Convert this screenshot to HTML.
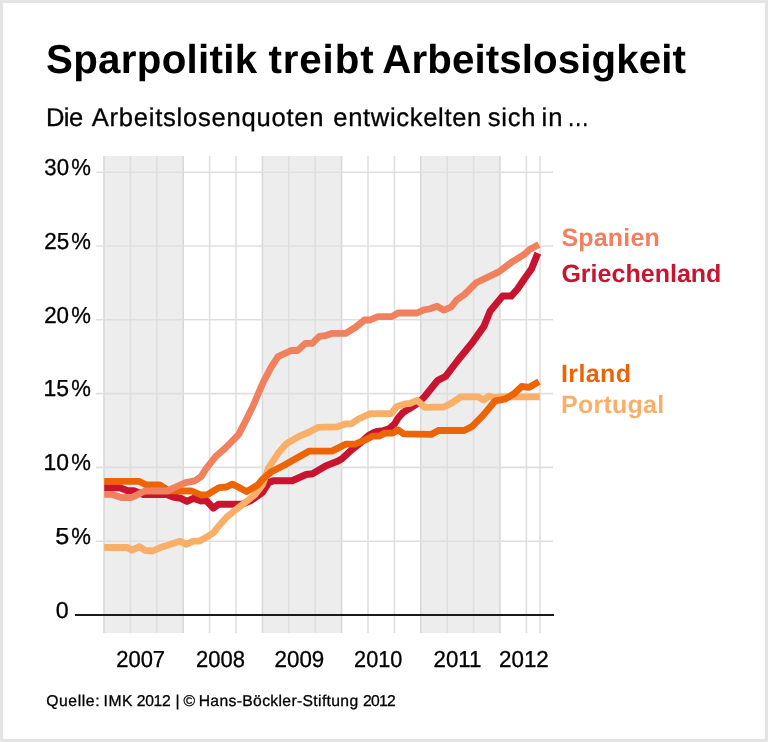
<!DOCTYPE html>
<html lang="de"><head><meta charset="utf-8"><title>Sparpolitik treibt Arbeitslosigkeit</title>
<style>html,body{margin:0;padding:0;background:#fff;overflow:hidden}svg{display:block}</style></head>
<body>
<svg width="768" height="742" viewBox="0 0 768 742">
<rect x="0" y="0" width="768" height="742" fill="#e4e4e4"/>
<rect x="3" y="3" width="762" height="736" fill="#ffffff"/>
<rect x="104.0" y="156" width="79.2" height="477" fill="#ededed"/>
<rect x="262.4" y="156" width="79.2" height="477" fill="#ededed"/>
<rect x="420.8" y="156" width="79.2" height="477" fill="#ededed"/>
<g stroke="#dfdfdf" stroke-width="1.6" fill="none">
<line x1="104.0" y1="156" x2="104.0" y2="633" stroke="#d9d9d9"/>
<line x1="130.4" y1="156" x2="130.4" y2="633"/>
<line x1="156.8" y1="156" x2="156.8" y2="633"/>
<line x1="183.2" y1="156" x2="183.2" y2="633" stroke="#d9d9d9"/>
<line x1="209.6" y1="156" x2="209.6" y2="633"/>
<line x1="236.0" y1="156" x2="236.0" y2="633"/>
<line x1="262.4" y1="156" x2="262.4" y2="633" stroke="#d9d9d9"/>
<line x1="288.8" y1="156" x2="288.8" y2="633"/>
<line x1="315.2" y1="156" x2="315.2" y2="633"/>
<line x1="341.6" y1="156" x2="341.6" y2="633" stroke="#d9d9d9"/>
<line x1="368.0" y1="156" x2="368.0" y2="633"/>
<line x1="394.4" y1="156" x2="394.4" y2="633"/>
<line x1="420.8" y1="156" x2="420.8" y2="633" stroke="#d9d9d9"/>
<line x1="447.2" y1="156" x2="447.2" y2="633"/>
<line x1="473.6" y1="156" x2="473.6" y2="633"/>
<line x1="500.0" y1="156" x2="500.0" y2="633" stroke="#d9d9d9"/>
<line x1="526.4" y1="156" x2="526.4" y2="633"/>
<line x1="540.0" y1="156" x2="540.0" y2="633"/>
<line x1="96" y1="541.2" x2="553" y2="541.2"/>
<line x1="96" y1="467.4" x2="553" y2="467.4"/>
<line x1="96" y1="393.6" x2="553" y2="393.6"/>
<line x1="96" y1="319.8" x2="553" y2="319.8"/>
<line x1="96" y1="246.0" x2="553" y2="246.0"/>
<line x1="96" y1="172.2" x2="553" y2="172.2"/>
</g>
<line x1="75" y1="615.0" x2="554" y2="615.0" stroke="#1a1a1a" stroke-width="2"/>
<g fill="none" stroke-width="6.8" stroke-linejoin="round" stroke-linecap="butt">
<polyline stroke="#c8142f" stroke-width="7" points="104.2,487.8 119.9,487.8 127.7,490.8 133.9,490.8 143.3,494.4 166.8,494.6 173.0,497.0 180.8,498.3 187.0,501.4 193.3,498.3 201.1,501.0 206.0,500.3 213.3,508.1 218.8,504.2 242.0,504.2 251.0,500.5 262.5,492.5 268.8,482.3 273.4,480.8 292.2,480.8 306.2,474.5 312.5,473.8 325.6,465.9 338.1,461.0 342.0,458.7 350.6,450.7 359.5,443.6 368.5,435.6 373.4,432.8 377.3,431.4 383.6,430.6 389.0,428.9 394.5,424.0 398.0,418.2 402.3,413.2 407.4,409.6 410.0,408.3 417.8,403.4 424.5,396.7 437.8,380.3 445.6,376.4 458.1,360.0 472.2,342.8 483.9,326.4 490.2,311.0 502.7,296.1 511.2,296.1 517.5,289.0 523.8,279.7 531.6,268.8 537.8,253.1"/>
<polyline stroke="#faaf69" points="104.2,547.5 127.7,547.5 131.6,550.3 139.4,546.7 144.9,550.3 152.7,551.0 160.5,547.5 166.8,545.6 173.0,543.6 180.0,541.2 186.3,544.4 193.3,541.2 199.6,541.0 207.4,536.6 213.6,532.7 218.0,527.0 226.6,517.2 235.9,509.7 246.9,501.1 254.7,494.8 262.5,484.7 268.8,467.5 278.7,452.5 286.5,443.6 300.0,435.8 309.4,432.0 317.8,427.4 336.6,426.9 345.9,423.8 351.4,423.8 358.4,419.0 370.2,413.6 391.2,413.6 396.7,406.6 403.8,404.2 410.0,403.4 417.0,400.3 424.8,407.3 443.8,407.0 451.6,403.1 460.9,396.9 478.1,396.9 483.6,400.0 489.0,396.1 493.8,397.7 500.0,396.9 539.8,396.9"/>
<polyline stroke="#ed6406" stroke-width="6.8" points="104.2,481.4 139.4,481.4 146.4,485.0 159.7,485.0 169.1,490.8 191.8,491.0 201.1,495.0 207.4,494.7 219.0,487.6 226.5,487.0 232.4,484.1 246.6,491.6 257.8,485.0 263.0,478.8 271.0,472.1 284.6,465.0 293.8,459.7 309.4,451.1 331.9,451.1 345.9,444.1 355.3,444.1 364.7,440.2 372.5,436.2 378.8,436.2 385.0,433.1 392.8,433.1 398.3,430.0 403.8,433.9 431.2,434.4 438.3,430.5 464.0,430.5 471.9,426.6 482.8,415.6 495.3,400.8 504.7,399.2 514.0,393.8 521.7,386.5 529.3,387.3 539.0,381.6"/>
<polyline stroke="#f1805e" points="104.2,494.4 112.0,494.4 121.4,497.5 131.6,497.5 144.9,491.0 167.5,491.0 173.4,488.0 185.5,482.6 194.9,480.8 201.1,476.6 206.2,468.5 215.6,456.6 225.0,448.4 238.6,434.6 246.3,419.6 253.0,406.0 263.1,382.5 270.9,367.7 278.0,356.7 291.2,350.5 297.5,350.5 305.3,343.4 312.3,343.4 319.4,336.4 325.6,335.6 332.5,333.3 345.8,333.3 355.9,327.0 364.5,320.0 370.0,320.0 377.8,316.6 391.9,316.6 398.1,313.0 416.9,313.0 423.9,309.8 429.4,309.0 437.0,306.2 444.0,310.2 451.1,307.0 456.6,300.0 464.4,294.5 476.1,282.8 498.8,271.9 511.2,262.5 523.8,254.7 530.0,249.2 538.9,244.5"/>
</g>
<g font-family="'Liberation Sans', Arial, Helvetica, sans-serif" text-rendering="geometricPrecision">
<text y="73" font-size="40.3" font-weight="bold" fill="#000" xml:space="preserve"><tspan x="46.01" style="letter-spacing:0.296px">Sparpolitik</tspan> <tspan x="268.51" style="letter-spacing:0.864px">treibt</tspan> <tspan x="382.20" style="letter-spacing:0.100px">Arbeitslosigkeit</tspan></text>
<text y="126.2" font-size="25.6" font-weight="normal" fill="#000" stroke="#000" stroke-width="0.3" xml:space="preserve"><tspan x="45.89" style="letter-spacing:-0.559px">Die</tspan> <tspan x="91.73" style="letter-spacing:0.747px">Arbeitslosenquoten</tspan> <tspan x="333.33" style="letter-spacing:0.645px">entwickelten</tspan> <tspan x="487.81" style="letter-spacing:0.711px">sich</tspan> <tspan x="541.48" style="letter-spacing:1.200px">in</tspan></text>
<text transform="translate(566.96,126.2) scale(0.8586,1.0)" font-size="26" font-weight="normal" fill="#000" stroke="#000" stroke-width="0.3">…</text>
<text transform="translate(55.68,617.8) scale(1.0510,1.05)" font-size="22" font-weight="normal" fill="#000" stroke="#000" stroke-width="0.3">0</text>
<text transform="translate(55.23,544.0) scale(1.1463,1.05)" font-size="22" font-weight="normal" fill="#000" stroke="#000" stroke-width="0.3">5</text><text transform="translate(71.18,544.0) scale(1.0046,1.05)" font-size="22" font-weight="normal" fill="#000" stroke="#000" stroke-width="0.3">%</text>
<text transform="translate(43.56,470.2) scale(1.0406,1.05)" font-size="22" font-weight="normal" fill="#000" stroke="#000" stroke-width="0.3">10</text><text transform="translate(71.18,470.2) scale(1.0046,1.05)" font-size="22" font-weight="normal" fill="#000" stroke="#000" stroke-width="0.3">%</text>
<text transform="translate(43.55,396.4) scale(1.0461,1.05)" font-size="22" font-weight="normal" fill="#000" stroke="#000" stroke-width="0.3">15</text><text transform="translate(71.18,396.4) scale(1.0046,1.05)" font-size="22" font-weight="normal" fill="#000" stroke="#000" stroke-width="0.3">%</text>
<text transform="translate(44.15,322.6) scale(1.0154,1.05)" font-size="22" font-weight="normal" fill="#000" stroke="#000" stroke-width="0.3">20</text><text transform="translate(71.18,322.6) scale(1.0046,1.05)" font-size="22" font-weight="normal" fill="#000" stroke="#000" stroke-width="0.3">%</text>
<text transform="translate(44.15,248.8) scale(1.0205,1.05)" font-size="22" font-weight="normal" fill="#000" stroke="#000" stroke-width="0.3">25</text><text transform="translate(71.18,248.8) scale(1.0046,1.05)" font-size="22" font-weight="normal" fill="#000" stroke="#000" stroke-width="0.3">%</text>
<text transform="translate(44.34,175.0) scale(1.0076,1.05)" font-size="22" font-weight="normal" fill="#000" stroke="#000" stroke-width="0.3">30</text><text transform="translate(71.18,175.0) scale(1.0046,1.05)" font-size="22" font-weight="normal" fill="#000" stroke="#000" stroke-width="0.3">%</text>
<text transform="translate(116.17,667.0) scale(0.9995,1.05)" font-size="22" font-weight="normal" fill="#000" stroke="#000" stroke-width="0.3">2007</text><text transform="translate(196.07,667.0) scale(0.9990,1.05)" font-size="22" font-weight="normal" fill="#000" stroke="#000" stroke-width="0.3">2008</text><text transform="translate(274.55,667.0) scale(1.0161,1.05)" font-size="22" font-weight="normal" fill="#000" stroke="#000" stroke-width="0.3">2009</text><text transform="translate(354.09,667.0) scale(0.9858,1.05)" font-size="22" font-weight="normal" fill="#000" stroke="#000" stroke-width="0.3">2010</text><text transform="translate(433.56,667.0) scale(1.0105,1.05)" font-size="22" font-weight="normal" fill="#000" stroke="#000" stroke-width="0.3">2011</text><text transform="translate(499.05,667.0) scale(1.0166,1.05)" font-size="22" font-weight="normal" fill="#000" stroke="#000" stroke-width="0.3">2012</text>
<text y="706.3" font-size="15.7" font-weight="normal" fill="#000" stroke="#000" stroke-width="0.3" xml:space="preserve"><tspan x="46.22" style="letter-spacing:0.601px">Quelle:</tspan> <tspan x="103.53" style="letter-spacing:0.576px">IMK</tspan> <tspan x="136.72" style="letter-spacing:-0.303px">2012</tspan> <tspan x="175.58" style="letter-spacing:0.000px">|</tspan> <tspan x="183.47" style="letter-spacing:0.000px">©</tspan> <tspan x="198.70" style="letter-spacing:0.344px">Hans-Böckler-Stiftung</tspan> <tspan x="362.97" style="letter-spacing:-0.719px">2012</tspan></text>
<text y="245.6" font-size="25" font-weight="bold" fill="#f1805e" xml:space="preserve"><tspan x="561.39" style="letter-spacing:0.201px">Spanien</tspan></text>
<text y="282" font-size="25" font-weight="bold" fill="#c8142f" xml:space="preserve"><tspan x="561.41" style="letter-spacing:0.019px">Griechenland</tspan></text>
<text y="381.5" font-size="25" font-weight="bold" fill="#ed6406" xml:space="preserve"><tspan x="561.02" style="letter-spacing:0.388px">Irland</tspan></text>
<text y="413.2" font-size="25" font-weight="bold" fill="#faaf69" xml:space="preserve"><tspan x="561.03" style="letter-spacing:0.246px">Portugal</tspan></text>
</g>
</svg>
</body></html>
